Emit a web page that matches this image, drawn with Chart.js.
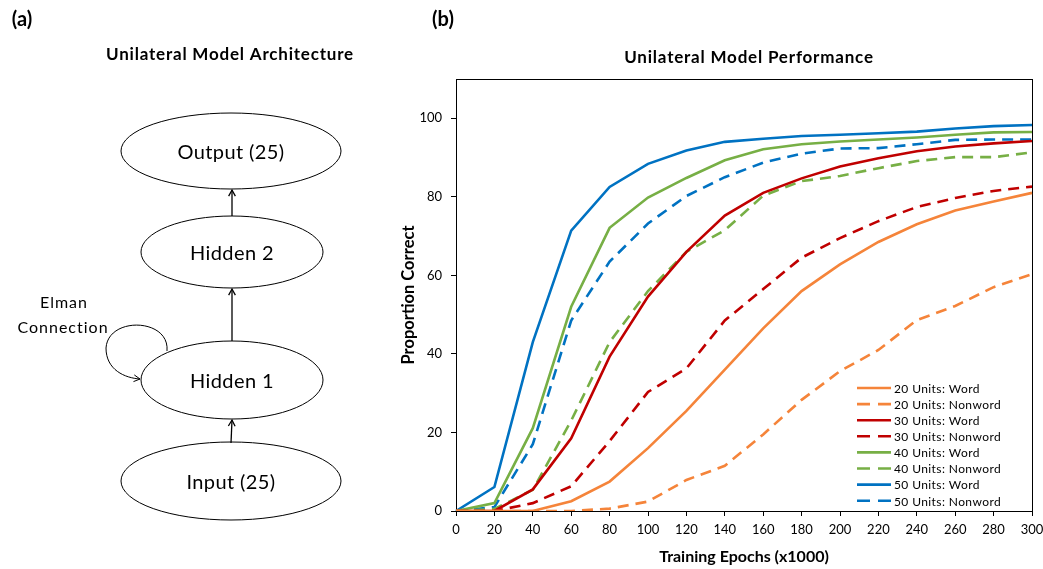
<!DOCTYPE html>
<html>
<head>
<meta charset="utf-8">
<script src="https://cdn.jsdelivr.net/npm/chart.js"></script>
<style>
  body { margin: 0; background: #fff; }
  #wrap { width: 1043px; height: 569px; }
</style>
</head>
<body>
<div id="wrap"><canvas id="perfChart" width="1043" height="569"></canvas></div>
<script>
// training epochs (x1000)
var epochs = [0, 20, 40, 60, 80, 100, 120, 140, 160, 180, 200, 220, 240, 260, 280, 300];

// proportion correct
var word20    = [0, 0, 0, 2.5, 7.5, 16, 25.5, 36, 46.5, 56, 62.8, 68.5, 73, 76.5, 78.8, 81];
var nonword20 = [0, 0, 0, 0, 0.6, 2.4, 7.9, 11.5, 19.5, 28.3, 35.6, 41, 48.6, 52.2, 57, 60.3];
var word30    = [0, 0, 5.5, 18.5, 39.3, 54.6, 66, 75.2, 81, 84.7, 87.7, 89.8, 91.6, 92.8, 93.6, 94.2];
var nonword30 = [0, 0, 2, 6.3, 17.8, 30.3, 36.3, 48.5, 56.5, 64.5, 69.5, 73.8, 77.4, 79.7, 81.5, 82.6];
var word40    = [0, 2, 21.1, 52, 72.1, 79.8, 84.8, 89.3, 92.1, 93.4, 94.1, 94.6, 95.1, 95.8, 96.4, 96.5];
var nonword40 = [0, 0.5, 5.4, 23, 43, 56, 66, 71.5, 80.3, 84, 85.3, 87.3, 89.1, 90.1, 90.1, 91.3];
var word50    = [0, 6.1, 43, 71.4, 82.5, 88.4, 91.8, 94, 94.8, 95.5, 95.8, 96.2, 96.6, 97.4, 98, 98.3];
var nonword50 = [0, 1, 17, 48.5, 63.5, 73.2, 80.2, 85, 88.7, 91, 92.3, 92.4, 93.4, 94.5, 94.6, 94.6];

var yTicks = [0, 20, 40, 60, 80, 100];

var ORANGE = '#F5843A', RED = '#C00000', GREEN = '#77AF45', BLUE = '#0072C2';
var DASH = [11, 7];
var FONT = 'Lato, "Open Sans", sans-serif';

function series(label, data, color, dashed) {
    return {
        label: label,
        data: data,
        borderColor: color,
        backgroundColor: color,
        borderWidth: 2.6,
        borderDash: dashed ? DASH : [],
        pointRadius: 0,
        tension: 0,
        fill: false
    };
}

function arrow(ctx, x1, y1, x2, y2) {
    ctx.beginPath();
    ctx.moveTo(x1, y1);
    ctx.lineTo(x2, y2);
    ctx.stroke();
    arrowHead(ctx, x2, y2, Math.atan2(y2 - y1, x2 - x1));
}

function arrowHead(ctx, x, y, ang) {
    var s = 7, a = 0.5;
    ctx.beginPath();
    ctx.moveTo(x - s * Math.cos(ang - a), y - s * Math.sin(ang - a));
    ctx.lineTo(x, y);
    ctx.lineTo(x - s * Math.cos(ang + a), y - s * Math.sin(ang + a));
    ctx.stroke();
}

function drawDiagram(ctx) {
    ctx.save();
    ctx.fillStyle = '#000';
    ctx.strokeStyle = '#000';
    ctx.textAlign = 'center';
    ctx.textBaseline = 'middle';

    ctx.font = 'bold 20px ' + FONT;
    ctx.fillText('(a)', 22, 20);
    ctx.font = 'bold 17px ' + FONT;
    ctx.letterSpacing = '0.8px';
    ctx.fillText('Unilateral Model Architecture', 230, 55);
    ctx.letterSpacing = '0px';

    var nodes = [
        ['Output (25)', 231, 151, 110, 38],
        ['Hidden 2', 232, 252, 91, 36],
        ['Hidden 1', 232, 380, 91, 39],
        ['Input (25)', 231, 481, 110, 39]
    ];
    ctx.lineWidth = 1;
    ctx.font = '20px ' + FONT;
    ctx.letterSpacing = '0.4px';
    nodes.forEach(function(n) {
        ctx.beginPath();
        ctx.ellipse(n[1], n[2], n[3], n[4], 0, 0, Math.PI * 2);
        ctx.stroke();
        ctx.fillText(n[0], n[1], n[2] + 2);
    });

    ctx.lineWidth = 1.3;
    arrow(ctx, 232, 216, 232, 190);
    arrow(ctx, 232, 341, 232, 289);
    arrow(ctx, 231, 443, 232, 420);

    // Elman recurrent loop
    ctx.lineWidth = 1;
    ctx.beginPath();
    ctx.moveTo(167, 351);
    ctx.bezierCurveTo(170, 318, 108, 316, 106, 348);
    ctx.bezierCurveTo(106, 370, 125, 378, 140, 379);
    ctx.stroke();
    arrowHead(ctx, 140, 379, 0.12);

    ctx.font = '16px ' + FONT;
    ctx.letterSpacing = '1px';
    ctx.fillText('Elman', 64, 303);
    ctx.fillText('Connection', 63, 328);
    ctx.restore();
}

var extras = {
    id: 'extras',
    beforeDatasetsDraw: function(chart) {
        var a = chart.chartArea, ctx = chart.ctx;
        ctx.save();
        ctx.strokeStyle = '#000';
        ctx.lineWidth = 1;
        ctx.strokeRect(Math.round(a.left) + 0.5, Math.round(a.top) + 0.5,
            Math.round(a.right - a.left), Math.round(a.bottom - a.top));
        ctx.restore();
    },
    afterDraw: function(chart) {
        var a = chart.chartArea, ctx = chart.ctx;
        ctx.save();
        ctx.fillStyle = '#000';
        ctx.textBaseline = 'middle';
        ctx.textAlign = 'center';
        ctx.font = 'bold 20px ' + FONT;
        ctx.fillText('(b)', 443, 20);
        ctx.font = 'bold 17px ' + FONT;
        ctx.letterSpacing = '0.8px';
        ctx.fillText('Unilateral Model Performance', (a.left + a.right) / 2 + 5, 58);

        // legend inside the plot, bottom right
        ctx.textAlign = 'left';
        ctx.font = '12px ' + FONT;
        ctx.letterSpacing = '0.4px';
        chart.data.datasets.forEach(function(ds, i) {
            var y = 388 + i * 16.1;
            ctx.strokeStyle = ds.borderColor;
            ctx.lineWidth = 2.6;
            ctx.setLineDash(ds.borderDash.length ? [13, 8] : []);
            ctx.beginPath();
            ctx.moveTo(857, y);
            ctx.lineTo(891, y);
            ctx.stroke();
            ctx.fillText(ds.label, 894, y + 1);
        });
        ctx.restore();

        drawDiagram(ctx);
    }
};

var ctx = document.getElementById('perfChart').getContext('2d');
var perfChart = new Chart(ctx, {
    type: 'line',
    data: {
        labels: epochs,
        datasets: [
            series('20 Units: Word', word20, ORANGE, false),
            series('20 Units: Nonword', nonword20, ORANGE, true),
            series('30 Units: Word', word30, RED, false),
            series('30 Units: Nonword', nonword30, RED, true),
            series('40 Units: Word', word40, GREEN, false),
            series('40 Units: Nonword', nonword40, GREEN, true),
            series('50 Units: Word', word50, BLUE, false),
            series('50 Units: Nonword', nonword50, BLUE, true)
        ]
    },
    options: {
        responsive: false,
        animation: false,
        devicePixelRatio: 1,
        layout: { padding: { left: 397, top: 79, right: 11, bottom: 0 } },
        plugins: {
            legend: { display: false },
            title: { display: false },
            tooltip: { enabled: false }
        },
        scales: {
            x: {
                offset: false,
                grid: { drawOnChartArea: false, drawTicks: true, tickLength: 5, color: '#000' },
                border: { display: true, color: '#000', width: 1 },
                ticks: { color: '#000', font: { family: FONT, size: 13 }, padding: 6, maxRotation: 0, autoSkip: false },
                title: { display: true, text: 'Training Epochs (x1000)', color: '#000',
                         font: { family: FONT, size: 16, weight: 'bold' }, padding: { top: 3, bottom: 3 } },
                afterFit: function(s) { s.height = 58; s.paddingLeft = 0; s.paddingRight = 0; }
            },
            y: {
                min: 0,
                max: 110,
                grid: { drawOnChartArea: false, drawTicks: true, tickLength: 5, color: '#000' },
                border: { display: true, color: '#000', width: 1 },
                ticks: { color: '#000', font: { family: FONT, size: 13 }, padding: 9, stepSize: 20 },
                afterBuildTicks: function(s) {
                    s.ticks = yTicks.map(function(v) { return { value: v }; });
                },
                title: { display: true, text: 'Proportion Correct', color: '#000',
                         font: { family: FONT, size: 16.5, weight: 'bold' }, padding: { top: 2, bottom: 2 } },
                afterFit: function(s) { s.width = 59; s.paddingTop = 0; s.paddingBottom = 0; }
            }
        }
    },
    plugins: [extras]
});
</script>
</body>
</html>
